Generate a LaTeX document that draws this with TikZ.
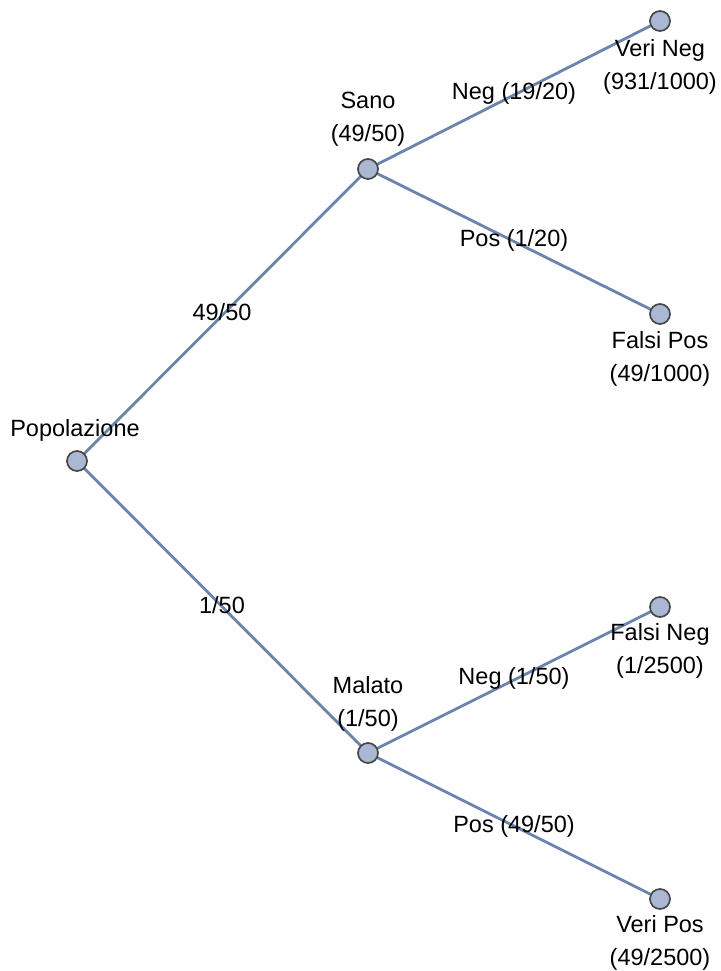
\documentclass[tikz,border=0pt]{standalone}
\usepackage{fontspec}
\setmainfont{Liberation Sans}
\usetikzlibrary{backgrounds}
\begin{document}
\begin{tikzpicture}[x=1pt,y=-1pt,
  vtx/.style={circle,draw=black!72,fill={rgb,255:red,170;green,184;blue,212},line width=1.7pt,minimum size=20pt,inner sep=0pt},
  edge/.style={draw={rgb,255:red,108;green,132;blue,172},line width=2.8pt},
  lbl/.style={font=\fontsize{23.5}{33}\selectfont,align=center,inner sep=0pt}]
\useasboundingbox (0,0) rectangle (720,971);
% vertices
\node[vtx] (pop) at (77,461) {};
\node[vtx] (sano) at (368,169) {};
\node[vtx] (mal) at (368,753) {};
\node[vtx] (vn) at (660,21) {};
\node[vtx] (fp) at (660,314) {};
\node[vtx] (fn) at (660,607) {};
\node[vtx] (vp) at (660,899) {};
% branches, behind the vertices
\begin{scope}[on background layer]
\path[edge] (pop.center) -- (sano.center);
\path[edge] (pop.center) -- (mal.center);
\path[edge] (sano.center) -- (vn.center);
\path[edge] (sano.center) -- (fp.center);
\path[edge] (mal.center) -- (fn.center);
\path[edge] (mal.center) -- (vp.center);
\end{scope}
% vertex labels
\node[lbl] (tpop) at (75,430) {Popolazione};
\node[lbl] (tsano) at (368,119) {Sano\\(49/50)};
\node[lbl] (tmal) at (368,704) {Malato\\(1/50)};
\node[lbl] (tvn) at (660,67) {Veri Neg\\(931/1000)};
\node[lbl] (tfp) at (660,359) {Falsi Pos\\(49/1000)};
\node[lbl] (tfn) at (660,651) {Falsi Neg\\(1/2500)};
\node[lbl] (tvp) at (660,943) {Veri Pos\\(49/2500)};
% branch labels
\node[lbl] (e1) at (222,312) {49/50};
\node[lbl] (e2) at (222,605) {1/50};
\node[lbl] (e3) at (514,93) {Neg (19/20)};
\node[lbl] (e4) at (514,240) {Pos (1/20)};
\node[lbl] (e5) at (514,678) {Neg (1/50)};
\node[lbl] (e6) at (514,826) {Pos (49/50)};
\end{tikzpicture}
\end{document}
